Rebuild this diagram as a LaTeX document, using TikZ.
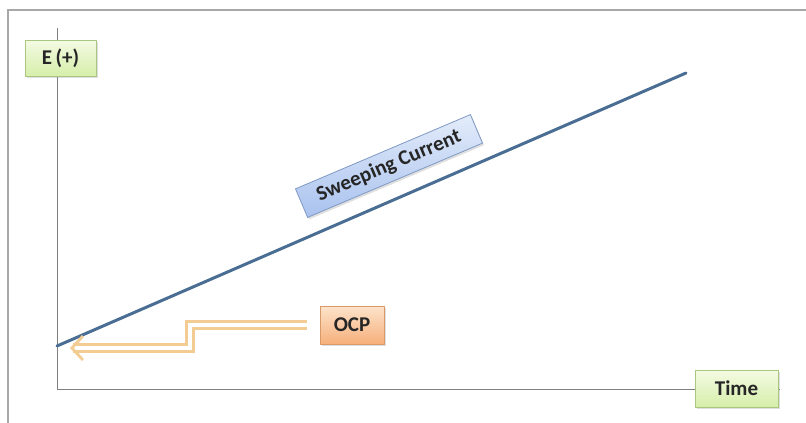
\documentclass[tikz,border=0pt]{standalone}
\usepackage{fontspec}
\setmainfont{Carlito}
\usetikzlibrary{shadows,arrows.meta}
\definecolor{frameGray}{HTML}{A8A8A8}
\definecolor{axisGray}{HTML}{808080}
\definecolor{sweepBlue}{HTML}{4A6E93}
\definecolor{greenTop}{HTML}{F4FBE3}
\definecolor{greenBot}{HTML}{D6EEAA}
\definecolor{greenEdge}{HTML}{A9C77E}
\definecolor{blueTop}{HTML}{E3ECFA}
\definecolor{blueBot}{HTML}{A9C2EE}
\definecolor{blueEdge}{HTML}{7F99C4}
\definecolor{orangeTop}{HTML}{FCE3CB}
\definecolor{orangeBot}{HTML}{F6B07B}
\definecolor{orangeEdge}{HTML}{D99A68}
\definecolor{pointerEdge}{HTML}{F2CC92}
\tikzset{
  labelbox/.style={draw, line width=0.8pt, font=\bfseries\fontsize{21}{24}\selectfont,
    inner sep=0pt, text=black!85, drop shadow={shadow xshift=1.5pt, shadow yshift=-2pt, opacity=0.25}},
  axislabel/.style={labelbox, top color=greenTop, bottom color=greenBot, draw=greenEdge},
  sweeplabel/.style={labelbox, top color=blueTop, bottom color=blueBot, draw=blueEdge},
  ocplabel/.style={labelbox, top color=orangeTop, bottom color=orangeBot, draw=orangeEdge},
}
\begin{document}
\begin{tikzpicture}[x=1pt, y=-1pt]
  \useasboundingbox (0,0) rectangle (806,423);
  % outer frame (top and left edges only)
  \draw[frameGray, line width=1.5pt] (806,10) -- (8,10) -- (8,423);
  % axes
  \coordinate (yTop) at (57,28);
  \coordinate (origin) at (57,389);
  \coordinate (xEnd) at (780,389);
  \draw[axisGray, line width=0.8pt] (yTop) -- (origin) -- (xEnd);
  % sweep line
  \coordinate (sweepStart) at (57,346);
  \coordinate (sweepEnd) at (686,73);
  \draw[sweepBlue, line width=3pt, line cap=round] (sweepStart) -- (sweepEnd);
  % axis labels
  \node[axislabel, minimum width=71pt, minimum height=36pt] (eAxis) at (60.5,58) {E\,(+)};
  \node[axislabel, minimum width=83pt, minimum height=37pt] (tAxis) at (736.5,388.5) {Time};
  % rotated label along the sweep
  \node[sweeplabel, rotate=23, minimum width=190pt, minimum height=31pt] (sweep) at (389,166) {Sweeping Current};
  % OCP label and its stepped pointer
  \node[ocplabel, minimum width=64pt, minimum height=38pt] (ocp) at (352,325) {OCP};
  \coordinate (bendA) at (190,325);
  \coordinate (bendB) at (190,348);
  \coordinate (tipPt) at (70,348);
  \draw[pointerEdge, line width=2.8pt, double=white, double distance=4pt,
        -{Straight Barb[length=11pt, width=24pt]}]
    ([xshift=-13pt]ocp.west) -- (bendA) -- (bendB) -- (tipPt);
\end{tikzpicture}
\end{document}
